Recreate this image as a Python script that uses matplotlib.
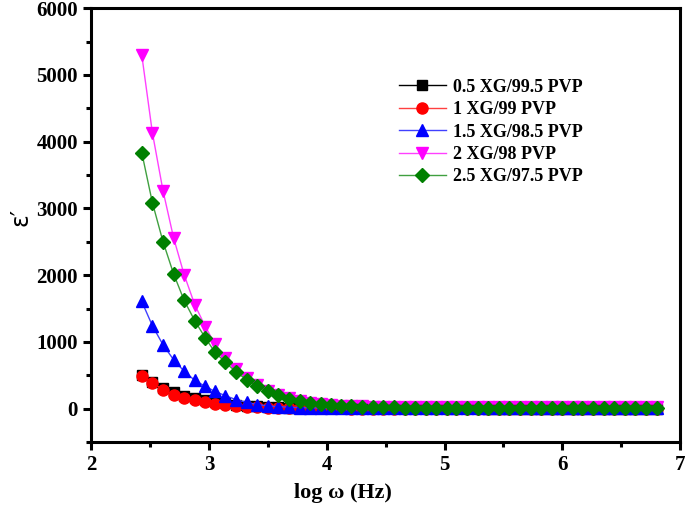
import matplotlib
matplotlib.use("Agg")
import matplotlib.pyplot as plt
from matplotlib.ticker import MultipleLocator

# log frequency grid
log_w = [2.43, 2.52, 2.61, 2.70, 2.79, 2.88, 2.97, 3.05, 3.14, 3.23,
         3.32, 3.41, 3.50, 3.59, 3.68, 3.77, 3.86, 3.95, 4.04, 4.12,
         4.21, 4.30, 4.39, 4.48, 4.57, 4.66, 4.75, 4.84, 4.93, 5.02,
         5.10, 5.19, 5.28, 5.37, 5.46, 5.55, 5.64, 5.73, 5.82, 5.91,
         6.00, 6.09, 6.17, 6.26, 6.35, 6.44, 6.53, 6.62, 6.71, 6.80]

tail = [6, 5, 5, 4, 4, 4, 3, 3, 3, 3, 3, 3, 3, 2, 2, 2, 2, 2, 2, 2,
        2, 2, 2, 2, 2, 2, 2, 2, 2, 2]

eps_05 = [500, 400, 310, 245, 195, 160, 130, 100, 80, 62,
          47, 36, 27, 20, 15, 12, 10, 8, 7, 6] + tail
eps_10 = [494, 385, 284, 210, 160, 124, 94, 70, 50, 36,
          26, 19, 14, 10, 8, 6, 5, 4, 3, 3] + [2] * 30
eps_15 = [1606, 1243, 958, 734, 559, 424, 334, 259, 195, 135,
          94, 62, 42, 30, 22, 16, 12, 9, 7, 6] + [5] * 30
eps_20 = [5300, 4136, 3268, 2560, 2006, 1557, 1228, 973, 763, 599,
          464, 359, 272, 205, 155, 118, 90, 70, 55, 45,
          38, 33, 30, 28, 27, 26, 25, 25, 24, 24] + [24] * 20
eps_25 = [3837, 3088, 2504, 2021, 1621, 1317, 1058, 849, 693, 549,
          434, 334, 259, 200, 152, 115, 88, 68, 53, 42,
          34, 28, 24, 21, 19, 17, 16, 15, 15, 14] + [14] * 20

labels = ["0.5 XG/99.5 PVP", "1 XG/99 PVP", "1.5 XG/98.5 PVP",
          "2 XG/98 PVP", "2.5 XG/97.5 PVP"]

plt.rcParams['font.family'] = ['Liberation Serif', 'DejaVu Serif']
plt.rcParams['font.weight'] = 'bold'

fig = plt.figure(figsize=(6.85, 5.14), dpi=100)
ax = fig.add_axes([0.133, 0.14, 0.86, 0.844])

series = [
    (eps_05, "black", "#000000", "s", 6.5),
    (eps_10, "red", "#ff4040", "o", 8),
    (eps_15, "blue", "#4040ff", "^", 8),
    (eps_20, "magenta", "#ff40ff", "v", 8),
    (eps_25, "#008000", "#40a040", "D", 7),
]
for (vals, mc, lc, mk, ms), lab in zip(series, labels):
    ax.plot(log_w, vals, color=lc, lw=1.0, marker=mk, ms=ms,
            markerfacecolor=mc, markeredgecolor=mc, label=lab)

ax.set_xlim(2, 7)
ax.set_ylim(-500, 6000)
ax.xaxis.set_major_locator(MultipleLocator(1))
ax.xaxis.set_minor_locator(MultipleLocator(0.5))
ax.yaxis.set_major_locator(MultipleLocator(1000))
ax.yaxis.set_minor_locator(MultipleLocator(500))
ax.tick_params(which='both', direction='out', width=2.2, top=False, right=False,
               labelsize=15)
ax.tick_params(which='major', length=6)
ax.tick_params(which='minor', length=3.5)
for s in ax.spines.values():
    s.set_linewidth(2.2)
for t in ax.get_xticklabels() + ax.get_yticklabels():
    t.set_fontweight('bold')

ax.set_xlabel("log ω (Hz)", fontsize=16, fontweight='bold')
ax.xaxis.set_label_coords(0.428, -0.095)
ax.set_ylabel("ε′", fontsize=17, fontweight='normal', family='DejaVu Sans')
ax.yaxis.set_label_coords(-0.1, 0.518)

leg = ax.legend(loc='upper left', bbox_to_anchor=(0.495, 0.875), frameon=False,
                prop={'size': 13, 'weight': 'bold'}, handlelength=2.6,
                labelspacing=0.3, handletextpad=0.4)

fig.savefig("out.png", dpi=100)
